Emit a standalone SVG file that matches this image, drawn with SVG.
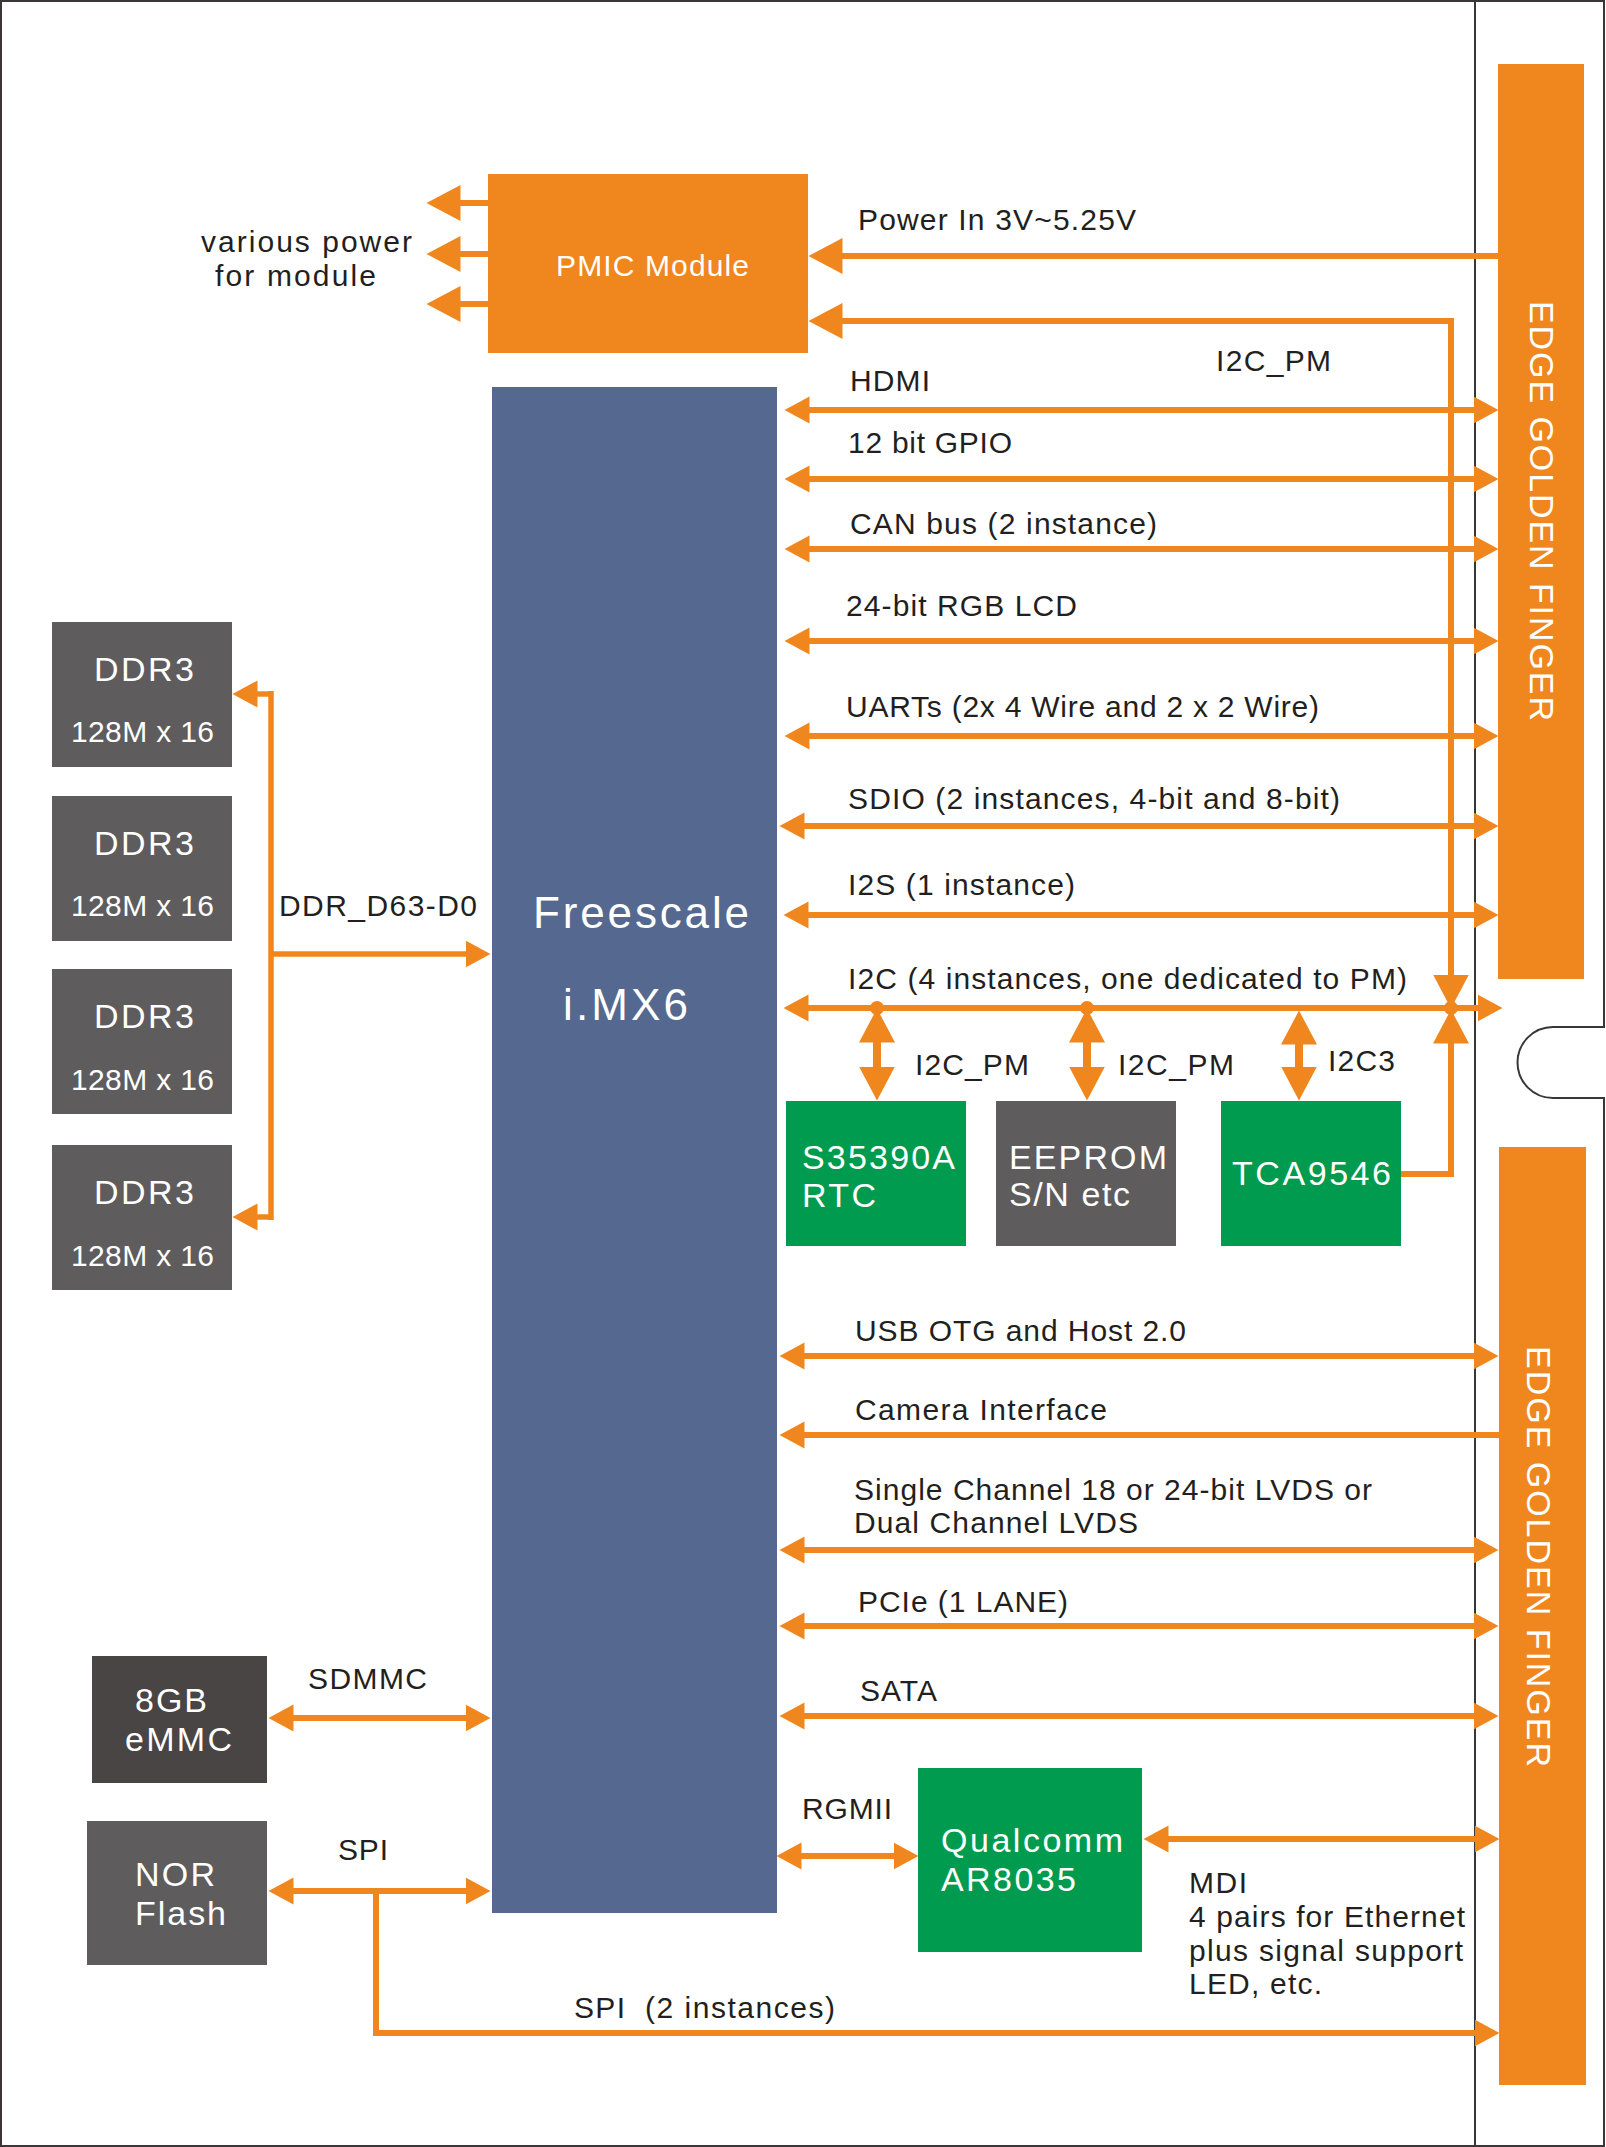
<svg xmlns="http://www.w3.org/2000/svg" width="1606" height="2147" viewBox="0 0 1606 2147">
<style>
.t{font-family:"Liberation Sans",Arial,sans-serif;font-size:30px;fill:#231f20}
.w{font-family:"Liberation Sans",Arial,sans-serif;font-size:34px;fill:#ffffff}
.ln{fill:none;stroke:#f0871e;stroke-width:6}
.orange{fill:#f0871e}
.gray{fill:#5e5c5d}
.green{fill:#009b4e}
.blue{fill:#55688f}
.dark{fill:#494544}
.gf{font-family:"Liberation Sans",Arial,sans-serif;font-size:34px;fill:#ffffff}
</style>
<defs>
<marker id="ah" viewBox="0 -14 26 28" markerUnits="userSpaceOnUse" markerWidth="26" markerHeight="28" refX="0.5" refY="0" orient="auto-start-reverse">
<path d="M0,-13.5 L25,0 L0,13.5 Z" fill="#f0871e"/>
</marker>
<marker id="ahL" viewBox="0 -19 35 38" markerUnits="userSpaceOnUse" markerWidth="35" markerHeight="38" refX="0.5" refY="0" orient="auto-start-reverse">
<path d="M0,-18 L34,0 L0,18 Z" fill="#f0871e"/>
</marker>
</defs>
<rect width="1606" height="2147" fill="#ffffff"/>
<g id="frame" fill="none" stroke="#3a3536" stroke-width="2">
<path d="M1,1 H1604 V1027 H1553 A35.5,35.5 0 0 0 1553,1098 H1604 V2146 H1 Z"/>
<line x1="1475" y1="0" x2="1475" y2="2147"/>
</g>
<g id="finger-top">
<rect class="orange" x="1498" y="64" width="86" height="915"/>
<text class="gf" transform="translate(1530,301) rotate(90)" textLength="420" lengthAdjust="spacing">EDGE GOLDEN FINGER</text>
</g>
<g id="finger-bottom">
<rect class="orange" x="1499" y="1147" width="87" height="938"/>
<text class="gf" transform="translate(1527,1346) rotate(90)" textLength="421" lengthAdjust="spacing">EDGE GOLDEN FINGER</text>
</g>
<g id="connectors">
<line class="ln" x1="488" y1="203" x2="460" y2="203" marker-end="url(#ahL)"/>
<line class="ln" x1="488" y1="254" x2="460" y2="254" marker-end="url(#ahL)"/>
<line class="ln" x1="488" y1="304" x2="460" y2="304" marker-end="url(#ahL)"/>
<line class="ln" x1="1498" y1="256" x2="842" y2="256" marker-end="url(#ahL)"/>
<path class="ln" d="M842,321 H1451 V975" marker-start="url(#ahL)" marker-end="url(#ahL)"/>
<path class="ln" d="M1401,1174 H1451 V1043" marker-end="url(#ahL)"/>
<circle class="orange" cx="1451" cy="1008" r="7"/>
<line class="ln" x1="809" y1="410" x2="1474" y2="410" marker-start="url(#ah)" marker-end="url(#ah)"/>
<line class="ln" x1="809" y1="479" x2="1474" y2="479" marker-start="url(#ah)" marker-end="url(#ah)"/>
<line class="ln" x1="809" y1="549" x2="1474" y2="549" marker-start="url(#ah)" marker-end="url(#ah)"/>
<line class="ln" x1="809" y1="641" x2="1474" y2="641" marker-start="url(#ah)" marker-end="url(#ah)"/>
<line class="ln" x1="809" y1="736" x2="1474" y2="736" marker-start="url(#ah)" marker-end="url(#ah)"/>
<line class="ln" x1="804" y1="826" x2="1474" y2="826" marker-start="url(#ah)" marker-end="url(#ah)"/>
<line class="ln" x1="808" y1="915" x2="1474" y2="915" marker-start="url(#ah)" marker-end="url(#ah)"/>
<line class="ln" x1="808" y1="1008" x2="1478" y2="1008" marker-start="url(#ah)" marker-end="url(#ah)"/>
<line class="ln" style="stroke-width:8" x1="877" y1="1042" x2="877" y2="1067" marker-start="url(#ahL)" marker-end="url(#ahL)"/>
<circle class="orange" cx="877" cy="1008" r="7"/>
<line class="ln" style="stroke-width:8" x1="1087" y1="1042" x2="1087" y2="1067" marker-start="url(#ahL)" marker-end="url(#ahL)"/>
<circle class="orange" cx="1087" cy="1008" r="7"/>
<line class="ln" style="stroke-width:8" x1="1299" y1="1044" x2="1299" y2="1067" marker-start="url(#ahL)" marker-end="url(#ahL)"/>
<line class="ln" x1="804" y1="1356" x2="1474" y2="1356" marker-start="url(#ah)" marker-end="url(#ah)"/>
<line class="ln" x1="1500" y1="1435" x2="804" y2="1435" marker-end="url(#ah)"/>
<line class="ln" x1="804" y1="1550" x2="1474" y2="1550" marker-start="url(#ah)" marker-end="url(#ah)"/>
<line class="ln" x1="804" y1="1626" x2="1474" y2="1626" marker-start="url(#ah)" marker-end="url(#ah)"/>
<line class="ln" x1="804" y1="1716" x2="1474" y2="1716" marker-start="url(#ah)" marker-end="url(#ah)"/>
<line class="ln" x1="801" y1="1856" x2="894" y2="1856" marker-start="url(#ah)" marker-end="url(#ah)"/>
<line class="ln" x1="1168" y1="1839" x2="1475" y2="1839" marker-start="url(#ah)" marker-end="url(#ah)"/>
<line class="ln" style="stroke-width:5.5" x1="271" y1="691" x2="271" y2="1220"/>
<line class="ln" style="stroke-width:5.5" x1="273" y1="694" x2="257" y2="694" marker-end="url(#ah)"/>
<line class="ln" style="stroke-width:5.5" x1="273" y1="1217" x2="257" y2="1217" marker-end="url(#ah)"/>
<line class="ln" style="stroke-width:5.5" x1="269" y1="954" x2="466" y2="954" marker-end="url(#ah)"/>
<line class="ln" x1="293" y1="1718" x2="466" y2="1718" marker-start="url(#ah)" marker-end="url(#ah)"/>
<line class="ln" x1="293" y1="1891" x2="466" y2="1891" marker-start="url(#ah)" marker-end="url(#ah)"/>
<path class="ln" d="M376,1891 V2033 H1475" marker-end="url(#ah)"/>
</g>
<g id="labels">
<text class="t" x="201" y="252" textLength="211" lengthAdjust="spacing">various power</text>
<text class="t" x="215" y="286" textLength="161" lengthAdjust="spacing">for module</text>
<text class="t" x="858" y="230" textLength="278" lengthAdjust="spacing">Power In 3V~5.25V</text>
<text class="t" x="1216" y="371" textLength="115" lengthAdjust="spacing">I2C_PM</text>
<text class="t" x="850" y="391" textLength="80" lengthAdjust="spacing">HDMI</text>
<text class="t" x="848" y="453" textLength="164" lengthAdjust="spacing">12 bit GPIO</text>
<text class="t" x="850" y="534" textLength="307" lengthAdjust="spacing">CAN bus (2 instance)</text>
<text class="t" x="846" y="616" textLength="231" lengthAdjust="spacing">24-bit RGB LCD</text>
<text class="t" x="846" y="717" textLength="473" lengthAdjust="spacing">UARTs (2x 4 Wire and 2 x 2 Wire)</text>
<text class="t" x="848" y="809" textLength="492" lengthAdjust="spacing">SDIO (2 instances, 4-bit and 8-bit)</text>
<text class="t" x="848" y="895" textLength="227" lengthAdjust="spacing">I2S (1 instance)</text>
<text class="t" x="848" y="989" textLength="559" lengthAdjust="spacing">I2C (4 instances, one dedicated to PM)</text>
<text class="t" x="915" y="1075" textLength="114" lengthAdjust="spacing">I2C_PM</text>
<text class="t" x="1118" y="1075" textLength="116" lengthAdjust="spacing">I2C_PM</text>
<text class="t" x="1328" y="1071" textLength="67" lengthAdjust="spacing">I2C3</text>
<text class="t" x="279" y="916" textLength="198" lengthAdjust="spacing">DDR_D63-D0</text>
<text class="t" x="855" y="1341" textLength="331" lengthAdjust="spacing">USB OTG and Host 2.0</text>
<text class="t" x="855" y="1420" textLength="252" lengthAdjust="spacing">Camera Interface</text>
<text class="t" x="854" y="1500" textLength="518" lengthAdjust="spacing">Single Channel 18 or 24-bit LVDS or</text>
<text class="t" x="854" y="1533" textLength="284" lengthAdjust="spacing">Dual Channel LVDS</text>
<text class="t" x="858" y="1612" textLength="210" lengthAdjust="spacing">PCIe (1 LANE)</text>
<text class="t" x="860" y="1701" textLength="77" lengthAdjust="spacing">SATA</text>
<text class="t" x="308" y="1689" textLength="119" lengthAdjust="spacing">SDMMC</text>
<text class="t" x="338" y="1860" textLength="50" lengthAdjust="spacing">SPI</text>
<text class="t" y="2018"><tspan x="574" textLength="51" lengthAdjust="spacing">SPI</tspan><tspan x="645" textLength="190" lengthAdjust="spacing">(2 instances)</tspan></text>
<text class="t" x="802" y="1819" textLength="90" lengthAdjust="spacing">RGMII</text>
<text class="t" x="1189" y="1893" textLength="58" lengthAdjust="spacing">MDI</text>
<text class="t" x="1189" y="1927" textLength="276" lengthAdjust="spacing">4 pairs for Ethernet</text>
<text class="t" x="1189" y="1961" textLength="274" lengthAdjust="spacing">plus signal support</text>
<text class="t" x="1189" y="1994" textLength="133" lengthAdjust="spacing">LED, etc.</text>
</g>
<g id="pmic">
<rect class="orange" x="488" y="174" width="320" height="179"/>
<text class="w" style="font-size:30px" x="556" y="276" textLength="193" lengthAdjust="spacing">PMIC Module</text>
</g>
<g id="imx6">
<rect class="blue" x="492" y="387" width="285" height="1526"/>
<text class="w" style="font-size:44px" x="533" y="928" textLength="216" lengthAdjust="spacing">Freescale</text>
<text class="w" style="font-size:44px" x="563" y="1020" textLength="125" lengthAdjust="spacing">i.MX6</text>
</g>
<g id="ddr1">
<rect class="gray" x="52" y="622" width="180" height="145"/>
<text class="w" x="94" y="681" textLength="100" lengthAdjust="spacing">DDR3</text>
<text class="w" style="font-size:30px" x="71" y="742" textLength="143" lengthAdjust="spacing">128M x 16</text>
</g>
<g id="ddr2">
<rect class="gray" x="52" y="796" width="180" height="145"/>
<text class="w" x="94" y="855" textLength="100" lengthAdjust="spacing">DDR3</text>
<text class="w" style="font-size:30px" x="71" y="916" textLength="143" lengthAdjust="spacing">128M x 16</text>
</g>
<g id="ddr3">
<rect class="gray" x="52" y="969" width="180" height="145"/>
<text class="w" x="94" y="1028" textLength="100" lengthAdjust="spacing">DDR3</text>
<text class="w" style="font-size:30px" x="71" y="1090" textLength="143" lengthAdjust="spacing">128M x 16</text>
</g>
<g id="ddr4">
<rect class="gray" x="52" y="1145" width="180" height="145"/>
<text class="w" x="94" y="1204" textLength="100" lengthAdjust="spacing">DDR3</text>
<text class="w" style="font-size:30px" x="71" y="1266" textLength="143" lengthAdjust="spacing">128M x 16</text>
</g>
<g id="rtc">
<rect class="green" x="786" y="1101" width="180" height="145"/>
<text class="w" x="802" y="1169" textLength="153" lengthAdjust="spacing">S35390A</text>
<text class="w" x="802" y="1207" textLength="74" lengthAdjust="spacing">RTC</text>
</g>
<g id="eeprom">
<rect class="gray" x="996" y="1101" width="180" height="145"/>
<text class="w" x="1009" y="1169" textLength="158" lengthAdjust="spacing">EEPROM</text>
<text class="w" x="1009" y="1206" textLength="121" lengthAdjust="spacing">S/N etc</text>
</g>
<g id="tca">
<rect class="green" x="1221" y="1101" width="180" height="145"/>
<text class="w" x="1232" y="1185" textLength="159" lengthAdjust="spacing">TCA9546</text>
</g>
<g id="emmc">
<rect class="dark" x="92" y="1656" width="175" height="127"/>
<text class="w" x="135" y="1712" textLength="72" lengthAdjust="spacing">8GB</text>
<text class="w" x="125" y="1751" textLength="107" lengthAdjust="spacing">eMMC</text>
</g>
<g id="nor">
<rect class="gray" x="87" y="1821" width="180" height="144"/>
<text class="w" x="135" y="1886" textLength="80" lengthAdjust="spacing">NOR</text>
<text class="w" x="135" y="1925" textLength="91" lengthAdjust="spacing">Flash</text>
</g>
<g id="qualcomm">
<rect class="green" x="918" y="1768" width="224" height="184"/>
<text class="w" x="941" y="1852" textLength="182" lengthAdjust="spacing">Qualcomm</text>
<text class="w" x="941" y="1891" textLength="135" lengthAdjust="spacing">AR8035</text>
</g>
</svg>
